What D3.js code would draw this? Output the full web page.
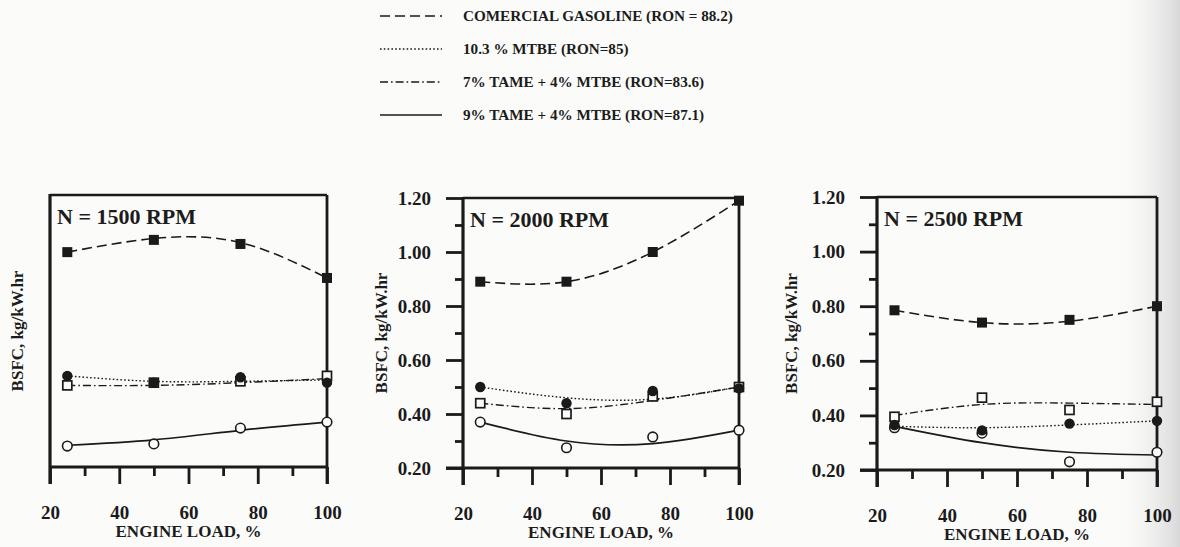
<!DOCTYPE html>
<html><head><meta charset="utf-8">
<script src="https://cdn.jsdelivr.net/npm/d3@7"></script>
<style>
body{margin:0;background:#fbfbfa}
svg{display:block}
text{font-family:"Liberation Serif","DejaVu Serif",serif;font-weight:bold;fill:#1c1c1c}
</style>
</head><body><svg id="c" width="1180" height="547"></svg>
<script>
// ---------- DATA ----------
const loads = [25, 50, 75, 100];                 // engine load, %
const speedTitles = ["N = 1500 RPM", "N = 2000 RPM", "N = 2500 RPM"];
const seriesNames = [
  "COMERCIAL GASOLINE (RON = 88.2)",
  "10.3 % MTBE (RON=85)",
  "7% TAME + 4% MTBE (RON=83.6)",
  "9% TAME + 4% MTBE (RON=87.1)"
];
const xMajorTicks = [20, 40, 60, 80, 100];
const xMinorTicks = [30, 50, 70, 90];
const yMajorTicks = [0.2, 0.4, 0.6, 0.8, 1.0, 1.2];
const yMinorTicks = [0.3, 0.5, 0.7, 0.9, 1.1];

// measured BSFC (kg/kW.hr), one row per speed [1500, 2000, 2500]
const gasolinePts = [[0.99, 1.035, 1.02, 0.895], [0.89, 0.89, 1.00, 1.19], [0.785, 0.74, 0.75, 0.80]];
const mtbePts     = [[0.535, 0.51, 0.53, 0.51],  [0.50, 0.44, 0.485, 0.495], [0.365, 0.345, 0.37, 0.38]];
const tame7Pts    = [[0.50, 0.51, 0.515, 0.535], [0.44, 0.40, 0.465, 0.50], [0.395, 0.465, 0.42, 0.45]];
const tame9Pts    = [[0.277, 0.285, 0.343, 0.365], [0.37, 0.275, 0.315, 0.34], [0.355, 0.335, 0.23, 0.265]];

// fitted curves at the same loads
const gasolineFit = [[0.99, 1.04, 1.025, 0.895], [0.89, 0.89, 1.00, 1.19], [0.785, 0.74, 0.745, 0.80]];
const mtbeFit     = [[0.535, 0.515, 0.515, 0.52], [0.50, 0.46, 0.455, 0.50], [0.36, 0.355, 0.365, 0.38]];
const tame7Fit    = [[0.50, 0.50, 0.51, 0.525], [0.44, 0.42, 0.45, 0.50], [0.40, 0.44, 0.445, 0.44]];
const tame9Fit    = [[0.28, 0.30, 0.335, 0.365], [0.37, 0.30, 0.29, 0.34], [0.36, 0.30, 0.265, 0.255]];

// ---------- LAYOUT ----------
const panels = [
  {left: 50,  right: 327,  top: 195, bottom: 467, yLabels: false, yTitleX: 17},
  {left: 463, right: 739,  top: 198, bottom: 468, yLabels: true,  yTitleX: 381},
  {left: 877, right: 1157, top: 197, bottom: 470, yLabels: true,  yTitleX: 791}
];
const ink = "#1a1a1a";
const styles = [
  {dash: "10,5",       width: 1.6, marker: "fsquare"},
  {dash: "1.6,2.2",    width: 1.4, marker: "fcircle"},
  {dash: "8,3,1.6,3",  width: 1.4, marker: "osquare"},
  {dash: null,         width: 1.7, marker: "ocircle"}
];
const ptsAll = [gasolinePts, mtbePts, tame7Pts, tame9Pts];
const fitAll = [gasolineFit, mtbeFit, tame7Fit, tame9Fit];

const svg = d3.select("#c");

// subtle scan shading on the right edge
const defs = svg.append("defs");
const g0 = defs.append("linearGradient").attr("id", "shade").attr("x1", 0).attr("x2", 1);
g0.append("stop").attr("offset", "0").attr("stop-color", "#fbfbfa").attr("stop-opacity", 0);
g0.append("stop").attr("offset", "1").attr("stop-color", "#d8d8d8").attr("stop-opacity", 1);
svg.append("rect").attr("x", 1110).attr("y", 0).attr("width", 70).attr("height", 547).attr("fill", "url(#shade)");

// ---------- LEGEND ----------
const legY = [16, 49, 82, 115];
const leg = svg.append("g");
seriesNames.forEach((name, i) => {
  leg.append("line").attr("x1", 380).attr("x2", 442).attr("y1", legY[i]).attr("y2", legY[i])
    .attr("stroke", ink).attr("stroke-width", styles[i].width)
    .attr("stroke-dasharray", styles[i].dash);
  leg.append("text").attr("x", 463).attr("y", legY[i]).attr("dy", "0.35em")
    .attr("font-size", 15.2).text(name);
});

// ---------- PANELS ----------
panels.forEach((p, pi) => {
  const x = d3.scaleLinear().domain([20, 100]).range([p.left, p.right]);
  const y = d3.scaleLinear().domain([0.2, 1.2]).range([p.bottom, p.top]);
  const g = svg.append("g");

  // x axis ticks
  const xMinor = g.append("g").attr("transform", `translate(0,${p.bottom})`)
    .call(d3.axisBottom(x).tickValues(xMinorTicks).tickSize(9).tickFormat(""));
  const xMajor = g.append("g").attr("transform", `translate(0,${p.bottom})`)
    .call(d3.axisBottom(x).tickValues(xMajorTicks).tickSize(17).tickPadding(22).tickFormat(d3.format("d")));
  [xMinor, xMajor].forEach(a => {
    a.select(".domain").remove();
    a.selectAll("line").attr("stroke", ink).attr("stroke-width", 2.8);
    a.selectAll("text").attr("font-size", 19).attr("font-family", null).style("fill", ink);
  });

  // y axis ticks
  if (p.yLabels) {
    const yMinor = g.append("g").attr("transform", `translate(${p.left},0)`)
      .call(d3.axisLeft(y).tickValues(yMinorTicks).tickSize(8).tickFormat(""));
    const yMajor = g.append("g").attr("transform", `translate(${p.left},0)`)
      .call(d3.axisLeft(y).tickValues(yMajorTicks).tickSize(17).tickPadding(15).tickFormat(d3.format(".2f")));
    [yMinor, yMajor].forEach(a => {
      a.select(".domain").remove();
      a.selectAll("line").attr("stroke", ink).attr("stroke-width", 2.8);
      a.selectAll("text").attr("font-size", 19).attr("font-family", null).style("fill", ink);
    });
  }

  // frame
  g.append("line").attr("x1", p.left).attr("x2", p.right).attr("y1", p.top).attr("y2", p.top)
    .attr("stroke", ink).attr("stroke-width", 2.4);
  g.append("line").attr("x1", p.right).attr("x2", p.right).attr("y1", p.top).attr("y2", p.bottom + 17)
    .attr("stroke", ink).attr("stroke-width", 2.8);
  g.append("line").attr("x1", p.left).attr("x2", p.left).attr("y1", p.top - 1).attr("y2", p.bottom + 17)
    .attr("stroke", ink).attr("stroke-width", 3.2);
  g.append("line").attr("x1", p.left - (p.yLabels ? 17 : 0)).attr("x2", p.right).attr("y1", p.bottom).attr("y2", p.bottom)
    .attr("stroke", ink).attr("stroke-width", 3.2);

  // titles
  g.append("text").attr("x", p.left + 7).attr("y", p.top + 21).attr("dy", "0.35em")
    .attr("font-size", 22).text(speedTitles[pi]);
  g.append("text").attr("x", (p.left + p.right) / 2).attr("y", p.bottom + 64).attr("dy", "0.35em")
    .attr("text-anchor", "middle").attr("font-size", 17).text("ENGINE LOAD, %");
  g.append("text").attr("transform", `translate(${p.yTitleX},${(p.top + p.bottom) / 2}) rotate(-90)`)
    .attr("dy", "0.35em").attr("text-anchor", "middle").attr("font-size", 17).text("BSFC, kg/kW.hr");

  // fitted curves
  const line = d3.line().x((d, i) => x(loads[i])).y(d => y(d)).curve(d3.curveNatural);
  fitAll.forEach((f, si) => {
    g.append("path").attr("d", line(f[pi])).attr("fill", "none")
      .attr("stroke", ink).attr("stroke-width", styles[si].width)
      .attr("stroke-dasharray", styles[si].dash);
  });

  // markers: draw open circle, open square, filled circle, filled square
  [3, 2, 1, 0].forEach(si => {
    const m = styles[si].marker;
    ptsAll[si][pi].forEach((v, i) => {
      const cx = x(loads[i]), cy = y(v);
      if (m === "fsquare") {
        g.append("rect").attr("x", cx - 5).attr("y", cy - 5).attr("width", 10).attr("height", 10).attr("fill", ink);
      } else if (m === "osquare") {
        g.append("rect").attr("x", cx - 4.5).attr("y", cy - 4.5).attr("width", 9).attr("height", 9)
          .attr("fill", "#fbfbfa").attr("stroke", ink).attr("stroke-width", 1.7);
      } else if (m === "fcircle") {
        g.append("circle").attr("cx", cx).attr("cy", cy).attr("r", 5.2).attr("fill", ink);
      } else {
        g.append("circle").attr("cx", cx).attr("cy", cy).attr("r", 4.8)
          .attr("fill", "#fbfbfa").attr("stroke", ink).attr("stroke-width", 1.6);
      }
    });
  });
});
</script></body></html>
